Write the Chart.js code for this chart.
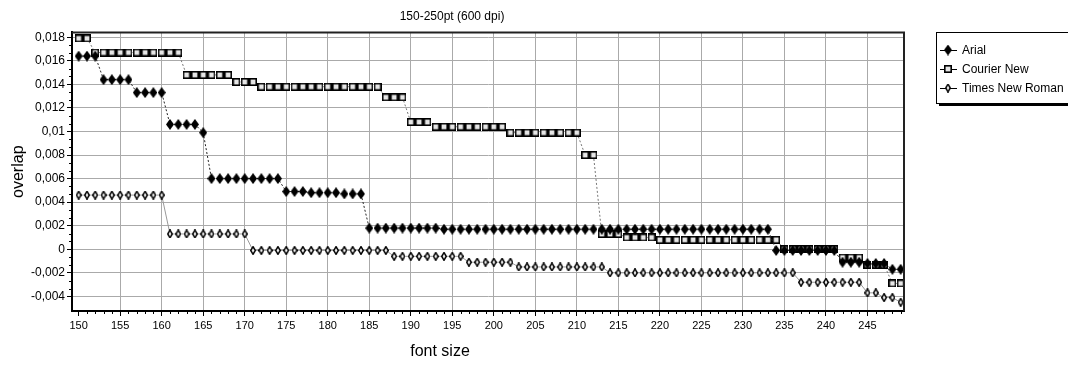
<!DOCTYPE html>
<html>
<head>
<meta charset="utf-8">
<script src="https://cdn.jsdelivr.net/npm/chart.js@4.4.1/dist/chart.umd.min.js"></script>
<style>
html, body { margin: 0; padding: 0; background: #fff; }
#wrap { position: relative; width: 1068px; height: 369px; }
</style>
</head>
<body>
<div id="wrap"><canvas id="overlapChart"></canvas></div>
<script>
// font sizes (x categories)
const fontSizes = [
  150,151,152,153,154,155,156,157,158,159,
  160,161,162,163,164,165,166,167,168,169,
  170,171,172,173,174,175,176,177,178,179,
  180,181,182,183,184,185,186,187,188,189,
  190,191,192,193,194,195,196,197,198,199,
  200,201,202,203,204,205,206,207,208,209,
  210,211,212,213,214,215,216,217,218,219,
  220,221,222,223,224,225,226,227,228,229,
  230,231,232,233,234,235,236,237,238,239,
  240,241,242,243,244,245,246,247,248,249
];

const arialOverlap = [
  0.0164,0.0164,0.0164,0.0144,0.0144,0.0144,0.0144,0.0133,0.0133,0.0133,
  0.0133,0.0106,0.0106,0.0106,0.0106,0.0099,0.0060,0.0060,0.0060,0.0060,
  0.0060,0.0060,0.0060,0.0060,0.0060,0.0049,0.0049,0.0049,0.0048,0.0048,
  0.0048,0.0048,0.0047,0.0047,0.0047,0.0018,0.0018,0.0018,0.0018,0.0018,
  0.0018,0.0018,0.0018,0.0018,0.0017,0.0017,0.0017,0.0017,0.0017,0.0017,
  0.0017,0.0017,0.0017,0.0017,0.0017,0.0017,0.0017,0.0017,0.0017,0.0017,
  0.0017,0.0017,0.0017,0.0017,0.0017,0.0017,0.0017,0.0017,0.0017,0.0017,
  0.0017,0.0017,0.0017,0.0017,0.0017,0.0017,0.0017,0.0017,0.0017,0.0017,
  0.0017,0.0017,0.0017,0.0017,-0.0001,-0.0001,-0.0001,-0.0001,-0.0001,-0.0001,
  -0.0001,-0.0001,-0.0011,-0.0011,-0.0011,-0.0012,-0.0012,-0.0012,-0.0017,-0.0017
];

const courierOverlap = [
  0.0179,0.0179,0.0167,0.0167,0.0167,0.0167,0.0167,0.0167,0.0167,0.0167,
  0.0167,0.0167,0.0167,0.0148,0.0148,0.0148,0.0148,0.0148,0.0148,0.0142,
  0.0142,0.0142,0.0138,0.0138,0.0138,0.0138,0.0138,0.0138,0.0138,0.0138,
  0.0138,0.0138,0.0138,0.0138,0.0138,0.0138,0.0138,0.0129,0.0129,0.0129,
  0.0108,0.0108,0.0108,0.0104,0.0104,0.0104,0.0104,0.0104,0.0104,0.0104,
  0.0104,0.0104,0.0099,0.0099,0.0099,0.0099,0.0099,0.0099,0.0099,0.0099,
  0.0099,0.0080,0.0080,0.0013,0.0013,0.0013,0.0010,0.0010,0.0010,0.0010,
  0.0008,0.0008,0.0008,0.0008,0.0008,0.0008,0.0008,0.0008,0.0008,0.0008,
  0.0008,0.0008,0.0008,0.0008,0.0008,0.0000,0.0000,0.0000,0.0000,0.0000,
  0.0000,0.0000,-0.0007,-0.0007,-0.0007,-0.0013,-0.0013,-0.0013,-0.0029,-0.0029
];

const timesOverlap = [
  0.0046,0.0046,0.0046,0.0046,0.0046,0.0046,0.0046,0.0046,0.0046,0.0046,
  0.0046,0.0013,0.0013,0.0013,0.0013,0.0013,0.0013,0.0013,0.0013,0.0013,
  0.0013,-0.0001,-0.0001,-0.0001,-0.0001,-0.0001,-0.0001,-0.0001,-0.0001,-0.0001,
  -0.0001,-0.0001,-0.0001,-0.0001,-0.0001,-0.0001,-0.0001,-0.0001,-0.0006,-0.0006,
  -0.0006,-0.0006,-0.0006,-0.0006,-0.0006,-0.0006,-0.0006,-0.0011,-0.0011,-0.0011,
  -0.0011,-0.0011,-0.0011,-0.0015,-0.0015,-0.0015,-0.0015,-0.0015,-0.0015,-0.0015,
  -0.0015,-0.0015,-0.0015,-0.0015,-0.0020,-0.0020,-0.0020,-0.0020,-0.0020,-0.0020,
  -0.0020,-0.0020,-0.0020,-0.0020,-0.0020,-0.0020,-0.0020,-0.0020,-0.0020,-0.0020,
  -0.0020,-0.0020,-0.0020,-0.0020,-0.0020,-0.0020,-0.0020,-0.0028,-0.0028,-0.0028,
  -0.0028,-0.0028,-0.0028,-0.0028,-0.0028,-0.0037,-0.0037,-0.0041,-0.0041,-0.0045
];

const seriesNames = ['Arial', 'Courier New', 'Times New Roman'];

const xTickValues = [150,155,160,165,170,175,180,185,190,195,200,205,210,215,220,225,230,235,240,245];
const yTickValues = [-0.004,-0.002,0,0.002,0.004,0.006,0.008,0.01,0.012,0.014,0.016,0.018];
const yTickLabels = ['-0,004','-0,002','0','0,002','0,004','0,006','0,008','0,01','0,012','0,014','0,016','0,018'];

const chartTitle = '150-250pt (600 dpi)';
const xAxisTitle = 'font size';
const yAxisTitle = 'overlap';

const FONT = "'Liberation Sans', Arial, sans-serif";

// マーカー画像
function makeMarker(kind) {
  const c = document.createElement('canvas');
  const g = c.getContext('2d');
  if (kind === 'diamond') {
    c.width = 8; c.height = 11;
    g.fillStyle = '#000';
    g.beginPath();
    g.moveTo(4, 0); g.lineTo(8, 5.5); g.lineTo(4, 11); g.lineTo(0, 5.5);
    g.closePath(); g.fill();
  } else if (kind === 'square') {
    c.width = 8; c.height = 8;
    g.fillStyle = '#e6e6e6';
    g.fillRect(0, 0, 8, 8);
    g.strokeStyle = '#000';
    g.lineWidth = 1.6;
    g.strokeRect(0.8, 0.8, 6.4, 6.4);
  } else {
    c.width = 6; c.height = 9;
    g.fillStyle = '#f2f2f2';
    g.strokeStyle = '#000';
    g.lineWidth = 1.5;
    g.beginPath();
    g.moveTo(3, 0.7); g.lineTo(5.3, 4.5); g.lineTo(3, 8.3); g.lineTo(0.7, 4.5);
    g.closePath(); g.fill(); g.stroke();
  }
  return c;
}

const markers = [makeMarker('diamond'), makeMarker('square'), makeMarker('thin')];
const lineColors = ['#222', '#777', '#999'];
const lineDashes = [[2, 2], [2, 2], []];

const framePlugin = {
  id: 'framePlugin',
  afterDraw(chart) {
    const ctx = chart.ctx;
    const a = chart.chartArea;
    const xs = chart.scales.x;
    const ys = chart.scales.y;
    ctx.save();

    // top / right border
    ctx.strokeStyle = '#222';
    ctx.lineWidth = 2;
    ctx.beginPath();
    ctx.moveTo(a.left, a.top);
    ctx.lineTo(a.right, a.top);
    ctx.lineTo(a.right, a.bottom);
    ctx.stroke();

    // minor ticks
    ctx.strokeStyle = '#000';
    ctx.lineWidth = 1;
    ctx.beginPath();
    fontSizes.forEach(v => {
      if (xTickValues.indexOf(v) >= 0) return;
      const px = Math.round(xs.getPixelForValue(v)) + 0.5;
      ctx.moveTo(px, a.bottom);
      ctx.lineTo(px, a.bottom + 3);
    });
    for (let i = 0; i < yTickValues.length - 1; i++) {
      const y0 = ys.getPixelForValue(yTickValues[i]);
      const y1 = ys.getPixelForValue(yTickValues[i + 1]);
      [1 / 3, 2 / 3].forEach(f => {
        const py = Math.round(y0 + (y1 - y0) * f) + 0.5;
        ctx.moveTo(a.left - 3, py);
        ctx.lineTo(a.left, py);
      });
    }
    ctx.stroke();

    // x axis title
    ctx.fillStyle = '#000';
    ctx.font = '16px ' + FONT;
    ctx.textAlign = 'center';
    ctx.textBaseline = 'middle';
    ctx.fillText(xAxisTitle, 440, 352);

    // legend
    const lx = 936, ly = 32, lw = 140, lh = 71;
    ctx.fillStyle = '#000';
    ctx.fillRect(lx + 3, ly + lh, lw, 3);
    ctx.fillStyle = '#fff';
    ctx.fillRect(lx, ly, lw, lh);
    ctx.strokeStyle = '#000';
    ctx.lineWidth = 1;
    ctx.strokeRect(lx + 0.5, ly + 0.5, lw, lh);

    ctx.font = '12px ' + FONT;
    ctx.textAlign = 'left';
    chart.data.datasets.forEach((ds, i) => {
      const cy = 50 + i * 19;
      ctx.strokeStyle = '#000';
      ctx.setLineDash([]);
      ctx.beginPath();
      ctx.moveTo(940, cy + 0.5);
      ctx.lineTo(957, cy + 0.5);
      ctx.stroke();
      const m = markers[i];
      ctx.drawImage(m, 948 - m.width / 2, cy - m.height / 2);
      ctx.fillStyle = '#000';
      ctx.fillText(ds.label, 962, cy + 1);
    });
    ctx.restore();
  }
};

const datasets = [arialOverlap, courierOverlap, timesOverlap].map((vals, i) => ({
  label: seriesNames[i],
  data: fontSizes.map((x, j) => ({ x: x, y: vals[j] })),
  borderColor: lineColors[i],
  borderWidth: 1,
  borderDash: lineDashes[i],
  pointStyle: markers[i],
  pointRadius: 4,
  pointHoverRadius: 4,
  tension: 0,
  fill: false,
  order: i
}));

Chart.defaults.font.family = FONT;
Chart.defaults.color = '#000';

new Chart(document.getElementById('overlapChart'), {
  type: 'line',
  data: { datasets: datasets },
  options: {
    responsive: true,
    maintainAspectRatio: false,
    animation: false,
    layout: { padding: { left: 0, right: 164, top: 0, bottom: 0 } },
    plugins: {
      legend: { display: false },
      tooltip: { enabled: false },
      title: {
        display: true,
        text: chartTitle,
        color: '#000',
        font: { size: 12, weight: 'normal' },
        padding: { top: 9, bottom: 9 }
      }
    },
    scales: {
      x: {
        type: 'linear',
        min: 149.2,
        max: 249.4,
        afterBuildTicks: s => { s.ticks = xTickValues.map(v => ({ value: v })); },
        afterFit: s => { s.height = 58; },
        ticks: {
          autoSkip: false,
          maxRotation: 0,
          padding: 3,
          color: '#000',
          font: { size: 11 },
          callback: v => String(v)
        },
        grid: {
          color: c => (c.tick && c.tick.value === 150) ? 'rgba(0,0,0,0)' : '#aaaaaa',
          lineWidth: 1,
          tickColor: '#000',
          tickLength: 5
        },
        border: { display: true, color: '#000', width: 2 }
      },
      y: {
        type: 'linear',
        min: -0.00524,
        max: 0.01841,
        afterBuildTicks: s => { s.ticks = yTickValues.map(v => ({ value: v })); },
        afterFit: s => { s.width = 72; },
        ticks: {
          autoSkip: false,
          padding: 2,
          color: '#000',
          font: { size: 12 },
          callback: (v, idx) => yTickLabels[idx]
        },
        grid: {
          color: '#aaaaaa',
          lineWidth: 1,
          tickColor: '#000',
          tickLength: 5
        },
        border: { display: true, color: '#000', width: 2 },
        title: {
          display: true,
          text: yAxisTitle,
          color: '#000',
          font: { size: 16 },
          padding: { top: 9, bottom: 0 }
        }
      }
    }
  },
  plugins: [framePlugin]
});
</script>
</body>
</html>
